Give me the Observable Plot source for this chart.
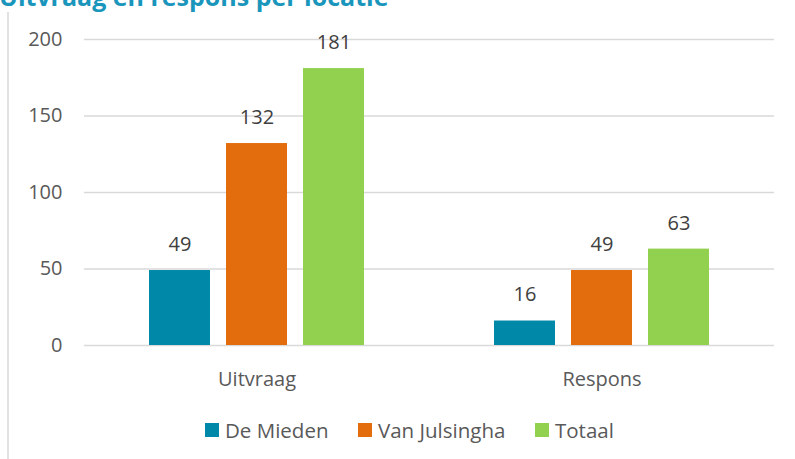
<!DOCTYPE html>
<html>
<head>
<meta charset="utf-8">
<script src="https://cdn.jsdelivr.net/npm/d3@7"></script>
<script src="https://cdn.jsdelivr.net/npm/@observablehq/plot@0.6"></script>
<style>
  html, body { margin: 0; padding: 0; background: #fff; overflow: hidden; }
  #wrap { position: relative; width: 795px; height: 459px; overflow: hidden; font-family: "Open Sans", sans-serif; }
  #title { position: absolute; left: -1px; top: -16px; font-size: 25px; font-weight: 700; color: #1a95bb; line-height: 25px; white-space: nowrap; }
  #vline { position: absolute; left: 7px; top: 12px; width: 2px; height: 447px; background: #e2e2e2; }
  #chart { position: absolute; left: 0; top: 0; }
  .lg { position: absolute; top: 419px; display: flex; align-items: center; font-size: 20.5px; color: #595959; line-height: 22px; }
  .sw { width: 14px; height: 14px; margin-right: 6px; }
</style>
</head>
<body>
<div id="wrap">
  <div id="title">Uitvraag en respons per locatie</div>
  <div id="vline"></div>
  <div id="chart"></div>
  <div id="legend"></div>
</div>
<script>
const categories = ["Uitvraag", "Respons"];
const locations = ["De Mieden", "Van Julsingha", "Totaal"];
const uitvraag = [49, 132, 181];
const respons = [16, 49, 63];
const colors = ["#0088a8", "#e36c0c", "#92d050"];
const yTicks = [0, 50, 100, 150, 200];

const series = [uitvraag, respons];
const data = categories.flatMap((c, i) =>
  locations.map((l, j) => ({cat: c, loc: l, value: series[i][j]}))
);

const chart = Plot.plot({
  width: 795,
  height: 400,
  marginLeft: 84,
  marginRight: 21,
  marginTop: 39,
  marginBottom: 55,
  style: {fontFamily: "Open Sans", fontSize: "20px", color: "#595959", background: "transparent"},
  fx: {domain: categories, paddingInner: 0, paddingOuter: 0, label: null, axis: "bottom", tickSize: 0, tickPadding: 26},
  x: {domain: locations, paddingInner: 0.21, paddingOuter: 0.83, axis: null},
  y: {domain: [0, 200], ticks: yTicks, label: null, tickSize: 0, tickPadding: 22},
  color: {domain: locations, range: colors},
  marks: [
    Plot.gridY(yTicks, {stroke: "#d9d9d9", strokeOpacity: 1, strokeWidth: 1.5}),
    Plot.barY(data, {fx: "cat", x: "loc", y: "value", fill: "loc"}),
    Plot.text(data, {fx: "cat", x: "loc", y: "value", text: d => String(d.value), dy: -26, fill: "#404040", fontSize: 20})
  ]
});
document.getElementById("chart").appendChild(chart);

const legendPos = [205, 358, 535];
const lg = document.getElementById("legend");
locations.forEach((l, i) => {
  const item = document.createElement("div");
  item.className = "lg";
  item.style.left = legendPos[i] + "px";
  const sw = document.createElement("div");
  sw.className = "sw";
  sw.style.background = colors[i];
  const t = document.createElement("span");
  t.textContent = l;
  item.appendChild(sw);
  item.appendChild(t);
  lg.appendChild(item);
});
</script>
</body>
</html>
